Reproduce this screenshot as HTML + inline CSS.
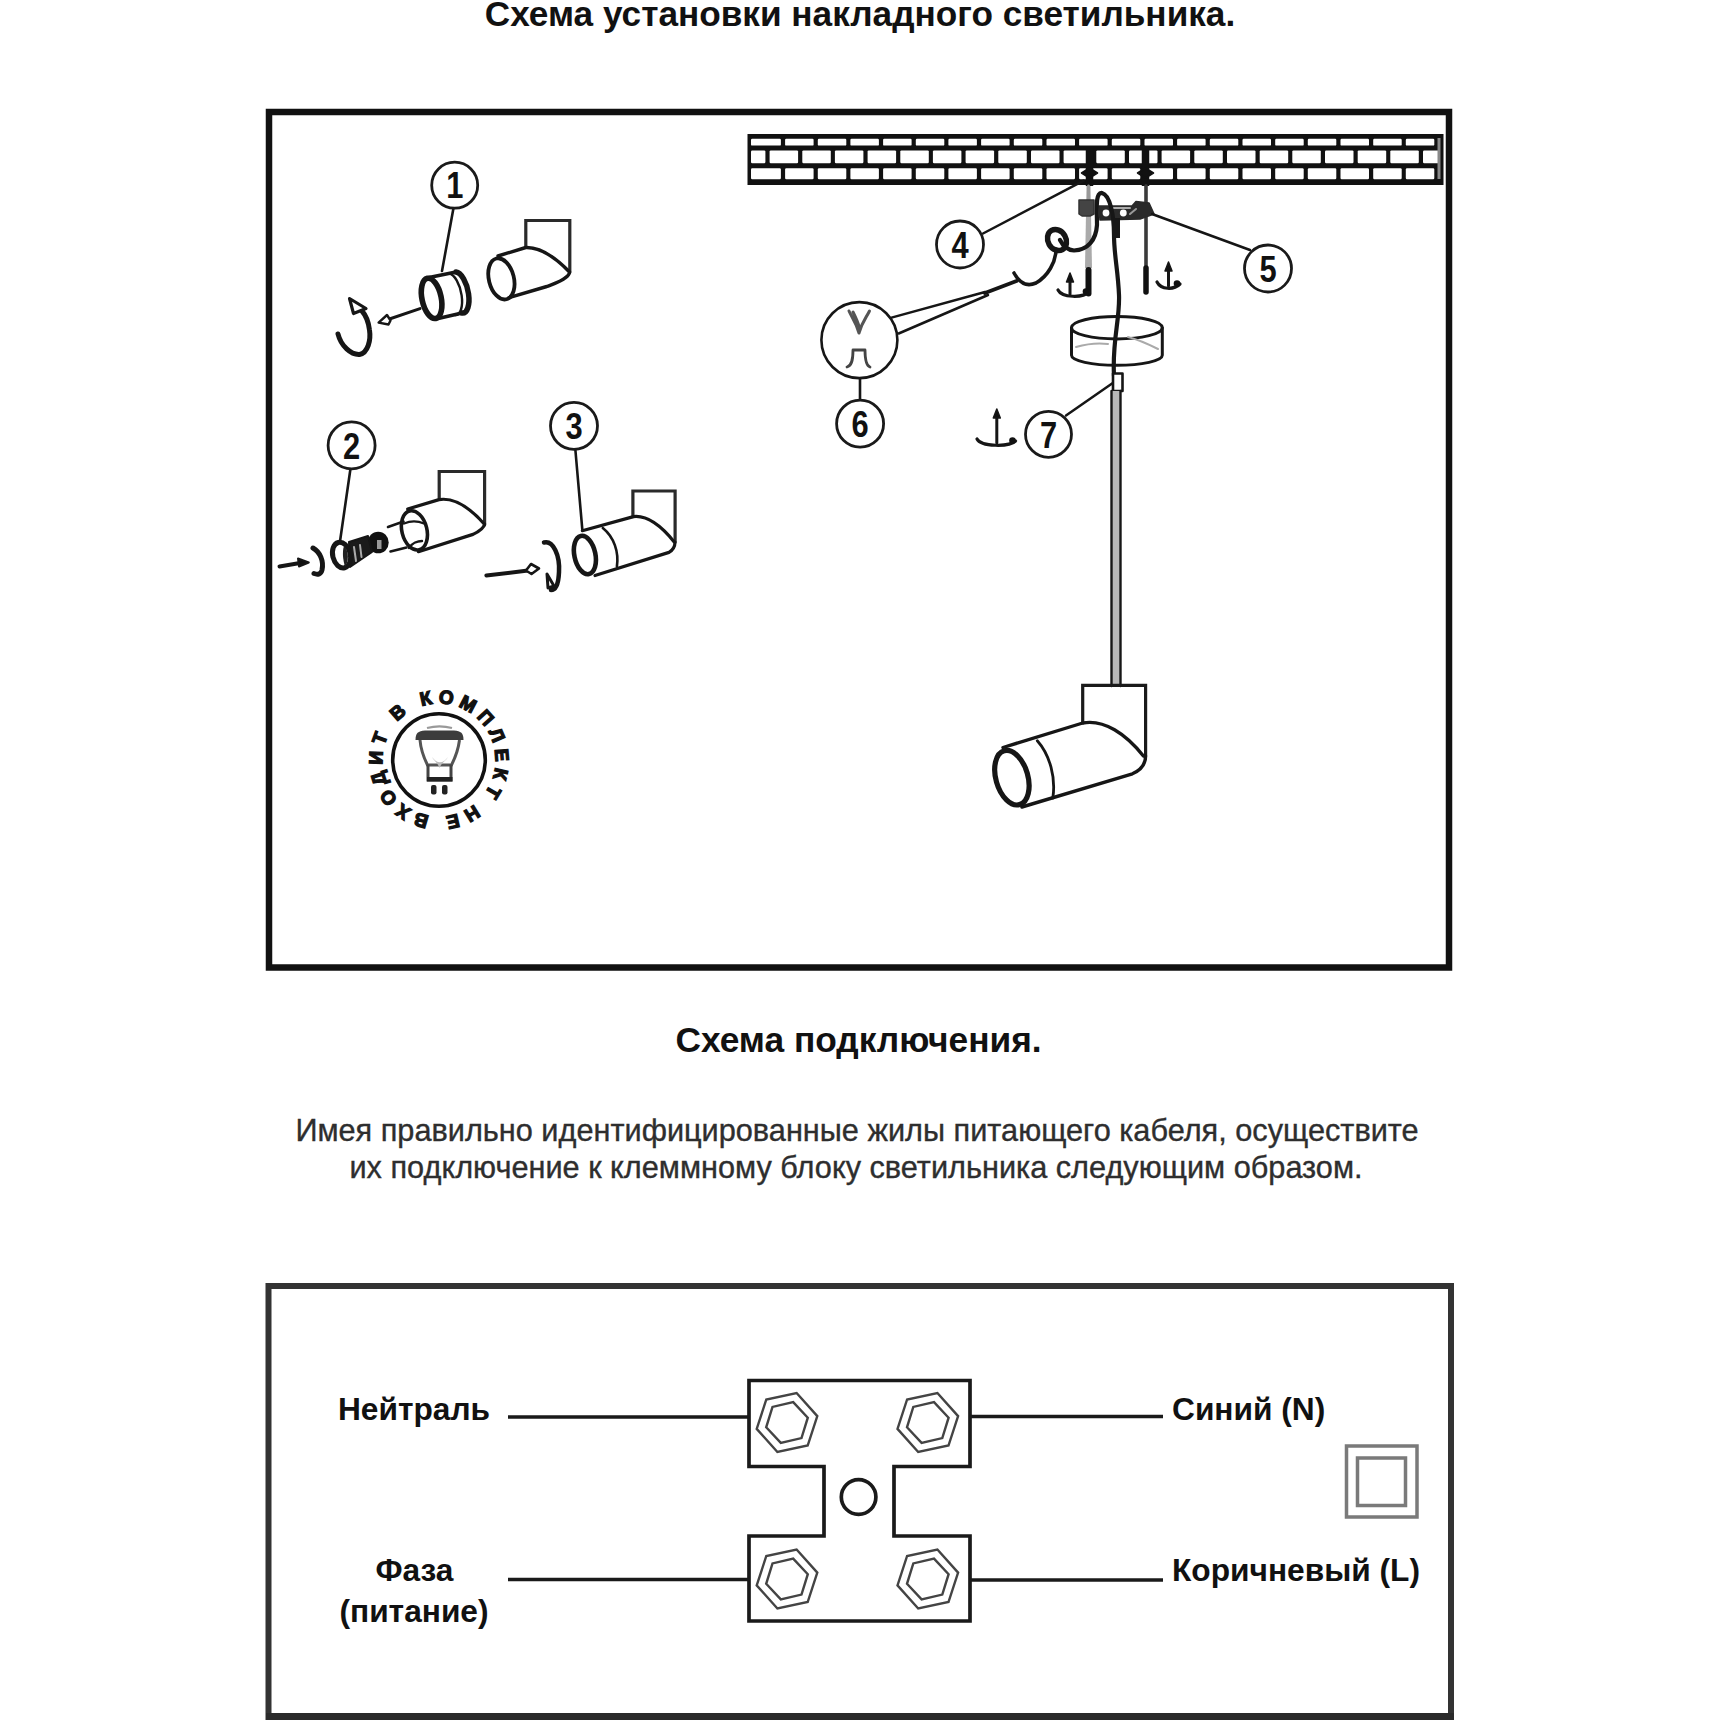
<!DOCTYPE html>
<html><head><meta charset="utf-8">
<style>
html,body{margin:0;padding:0;background:#fff;width:1720px;height:1720px;overflow:hidden}
svg{display:block;position:absolute;left:0;top:0}
text{font-family:"Liberation Sans",sans-serif}
</style></head><body>
<svg width="1720" height="1720" viewBox="0 0 1720 1720">
<rect x="0" y="0" width="1720" height="1720" fill="#fff"/>
<!-- titles -->
<text x="860" y="26" text-anchor="middle" font-size="35.2" font-weight="bold" fill="#111">Схема установки накладного светильника.</text>
<text x="858.5" y="1052" text-anchor="middle" font-size="35.3" font-weight="bold" fill="#111">Схема подключения.</text>
<text x="857" y="1141" text-anchor="middle" font-size="30.7" fill="#2e2e2e" stroke="#2e2e2e" stroke-width="0.35">Имея правильно идентифицированные жилы питающего кабеля, осуществите</text>
<text x="856" y="1178" text-anchor="middle" font-size="30.7" fill="#2e2e2e" stroke="#2e2e2e" stroke-width="0.35">их подключение к клеммному блоку светильника следующим образом.</text>

<!-- top frame -->
<rect x="269" y="112" width="1180" height="855.5" fill="none" stroke="#111" stroke-width="6.5"/>

<!-- bottom frame -->
<path d="M268.5 1723 V1286 H1451 V1723" fill="none" stroke="#333" stroke-width="6"/>
<line x1="266" y1="1716.5" x2="1454" y2="1716.5" stroke="#2a2a2a" stroke-width="7"/>

<!-- terminal block -->
<path d="M749 1380.5 H970 V1466.5 H894 V1536 H970 V1621 H749 V1536 H824 V1466.5 H749 Z" fill="none" stroke="#1a1a1a" stroke-width="3.7"/>
<circle cx="858.6" cy="1497" r="17.3" fill="none" stroke="#1a1a1a" stroke-width="3.7"/>
<g id="nuts" fill="none" stroke="#444" stroke-width="2.4"><polygon points="796.6,1393.0 817.3,1416.1 807.7,1445.5 777.4,1452.0 756.7,1428.9 766.3,1399.5"/><polygon points="793.2,1402.1 807.8,1417.7 801.5,1438.1 780.8,1442.9 766.2,1427.3 772.5,1406.9"/><polygon points="937.4,1393.0 958.1,1416.1 948.5,1445.5 918.2,1452.0 897.5,1428.9 907.1,1399.5"/><polygon points="934.0,1402.1 948.6,1417.7 942.3,1438.1 921.6,1442.9 907.0,1427.3 913.3,1406.9"/><polygon points="796.6,1549.5 817.3,1572.6 807.7,1602.0 777.4,1608.5 756.7,1585.4 766.3,1556.0"/><polygon points="793.2,1558.6 807.8,1574.2 801.5,1594.6 780.8,1599.4 766.2,1583.8 772.5,1563.4"/><polygon points="937.4,1549.5 958.1,1572.6 948.5,1602.0 918.2,1608.5 897.5,1585.4 907.1,1556.0"/><polygon points="934.0,1558.6 948.6,1574.2 942.3,1594.6 921.6,1599.4 907.0,1583.8 913.3,1563.4"/></g>
<!-- wires -->
<g stroke="#1a1a1a" stroke-width="3.7">
<line x1="508" y1="1417" x2="749" y2="1417"/>
<line x1="970" y1="1416.5" x2="1163" y2="1416.5"/>
<line x1="508" y1="1579.5" x2="749" y2="1579.5"/>
<line x1="970" y1="1580" x2="1163" y2="1580"/>
</g>
<text x="414" y="1420" text-anchor="middle" font-size="31.7" font-weight="bold" fill="#111">Нейтраль</text>
<text x="414.5" y="1581" text-anchor="middle" font-size="31.7" font-weight="bold" fill="#111">Фаза</text>
<text x="414" y="1621.5" text-anchor="middle" font-size="31.7" font-weight="bold" fill="#111">(питание)</text>
<text x="1172" y="1419.5" font-size="31.7" font-weight="bold" fill="#111">Синий (N)</text>
<text x="1172" y="1581" font-size="31.7" font-weight="bold" fill="#111">Коричневый (L)</text>
<!-- double square -->
<rect x="1346.5" y="1446" width="70.5" height="71" fill="none" stroke="#7a7a7a" stroke-width="3.5"/>
<rect x="1357.5" y="1458" width="48" height="47.5" fill="none" stroke="#7a7a7a" stroke-width="3.5"/>

<!-- TOP DIAGRAM -->
<g id="top"><rect x="747.5" y="134" width="696.0" height="51" fill="#111"/>
<g fill="#fff"><rect x="751.0" y="138.8" width="29.9" height="6.799999999999983" rx="1.2"/><rect x="785.1" y="138.8" width="28.5" height="6.799999999999983" rx="1.2"/><rect x="817.8" y="138.8" width="28.5" height="6.799999999999983" rx="1.2"/><rect x="850.4" y="138.8" width="28.5" height="6.799999999999983" rx="1.2"/><rect x="883.1" y="138.8" width="28.5" height="6.799999999999983" rx="1.2"/><rect x="915.8" y="138.8" width="28.5" height="6.799999999999983" rx="1.2"/><rect x="948.4" y="138.8" width="28.5" height="6.799999999999983" rx="1.2"/><rect x="981.1" y="138.8" width="28.5" height="6.799999999999983" rx="1.2"/><rect x="1013.8" y="138.8" width="28.5" height="6.799999999999983" rx="1.2"/><rect x="1046.5" y="138.8" width="28.5" height="6.799999999999983" rx="1.2"/><rect x="1079.1" y="138.8" width="28.5" height="6.799999999999983" rx="1.2"/><rect x="1111.8" y="138.8" width="28.5" height="6.799999999999983" rx="1.2"/><rect x="1144.5" y="138.8" width="28.5" height="6.799999999999983" rx="1.2"/><rect x="1177.1" y="138.8" width="28.5" height="6.799999999999983" rx="1.2"/><rect x="1209.8" y="138.8" width="28.5" height="6.799999999999983" rx="1.2"/><rect x="1242.5" y="138.8" width="28.5" height="6.799999999999983" rx="1.2"/><rect x="1275.2" y="138.8" width="28.5" height="6.799999999999983" rx="1.2"/><rect x="1307.8" y="138.8" width="28.5" height="6.799999999999983" rx="1.2"/><rect x="1340.5" y="138.8" width="28.5" height="6.799999999999983" rx="1.2"/><rect x="1373.2" y="138.8" width="28.5" height="6.799999999999983" rx="1.2"/><rect x="1405.8" y="138.8" width="28.5" height="6.799999999999983" rx="1.2"/><rect x="751.0" y="150.4" width="14.4" height="12.799999999999983" rx="1.2"/><rect x="769.6" y="150.4" width="28.5" height="12.799999999999983" rx="1.2"/><rect x="802.3" y="150.4" width="28.5" height="12.799999999999983" rx="1.2"/><rect x="834.9" y="150.4" width="28.5" height="12.799999999999983" rx="1.2"/><rect x="867.6" y="150.4" width="28.5" height="12.799999999999983" rx="1.2"/><rect x="900.3" y="150.4" width="28.5" height="12.799999999999983" rx="1.2"/><rect x="932.9" y="150.4" width="28.5" height="12.799999999999983" rx="1.2"/><rect x="965.6" y="150.4" width="28.5" height="12.799999999999983" rx="1.2"/><rect x="998.3" y="150.4" width="28.5" height="12.799999999999983" rx="1.2"/><rect x="1031.0" y="150.4" width="28.5" height="12.799999999999983" rx="1.2"/><rect x="1063.6" y="150.4" width="28.5" height="12.799999999999983" rx="1.2"/><rect x="1096.3" y="150.4" width="28.5" height="12.799999999999983" rx="1.2"/><rect x="1129.0" y="150.4" width="28.5" height="12.799999999999983" rx="1.2"/><rect x="1161.6" y="150.4" width="28.5" height="12.799999999999983" rx="1.2"/><rect x="1194.3" y="150.4" width="28.5" height="12.799999999999983" rx="1.2"/><rect x="1227.0" y="150.4" width="28.5" height="12.799999999999983" rx="1.2"/><rect x="1259.7" y="150.4" width="28.5" height="12.799999999999983" rx="1.2"/><rect x="1292.3" y="150.4" width="28.5" height="12.799999999999983" rx="1.2"/><rect x="1325.0" y="150.4" width="28.5" height="12.799999999999983" rx="1.2"/><rect x="1357.7" y="150.4" width="28.5" height="12.799999999999983" rx="1.2"/><rect x="1390.3" y="150.4" width="28.5" height="12.799999999999983" rx="1.2"/><rect x="1423.0" y="150.4" width="16.0" height="12.799999999999983" rx="1.2"/><rect x="751.0" y="168.2" width="29.9" height="11.0" rx="1.2"/><rect x="785.1" y="168.2" width="28.5" height="11.0" rx="1.2"/><rect x="817.8" y="168.2" width="28.5" height="11.0" rx="1.2"/><rect x="850.4" y="168.2" width="28.5" height="11.0" rx="1.2"/><rect x="883.1" y="168.2" width="28.5" height="11.0" rx="1.2"/><rect x="915.8" y="168.2" width="28.5" height="11.0" rx="1.2"/><rect x="948.4" y="168.2" width="28.5" height="11.0" rx="1.2"/><rect x="981.1" y="168.2" width="28.5" height="11.0" rx="1.2"/><rect x="1013.8" y="168.2" width="28.5" height="11.0" rx="1.2"/><rect x="1046.5" y="168.2" width="28.5" height="11.0" rx="1.2"/><rect x="1079.1" y="168.2" width="28.5" height="11.0" rx="1.2"/><rect x="1111.8" y="168.2" width="28.5" height="11.0" rx="1.2"/><rect x="1144.5" y="168.2" width="28.5" height="11.0" rx="1.2"/><rect x="1177.1" y="168.2" width="28.5" height="11.0" rx="1.2"/><rect x="1209.8" y="168.2" width="28.5" height="11.0" rx="1.2"/><rect x="1242.5" y="168.2" width="28.5" height="11.0" rx="1.2"/><rect x="1275.2" y="168.2" width="28.5" height="11.0" rx="1.2"/><rect x="1307.8" y="168.2" width="28.5" height="11.0" rx="1.2"/><rect x="1340.5" y="168.2" width="28.5" height="11.0" rx="1.2"/><rect x="1373.2" y="168.2" width="28.5" height="11.0" rx="1.2"/><rect x="1405.8" y="168.2" width="28.5" height="11.0" rx="1.2"/></g>
<rect x="1437.5" y="138" width="3" height="41" fill="#888"/>
<g stroke="#161616" fill="none" stroke-linecap="round" stroke-linejoin="round">
<line x1="453.5" y1="208" x2="442" y2="271" stroke-width="2.6"/>
<path d="M429 277.5 L456 272 M436 319 L462 313" stroke-width="3.6"/>
<path d="M456 272 A9 20.5 -12 0 1 462 313" stroke-width="5.5"/>
<path d="M449 273.5 A9 20.5 -12 0 1 455 315" stroke-width="2.4"/>
<ellipse cx="431.6" cy="298.4" rx="9.6" ry="20.5" transform="rotate(-12 431.6 298.4)" stroke-width="5.6"/>
<line x1="420" y1="308.6" x2="385" y2="320.5" stroke-width="3"/>
<path d="M378.6 322.6 L387 315 L390.5 320.5 L388.5 324.5 Z" fill="#fff" stroke-width="2.4"/>
<path d="M338 334 C341 346 351 355 359.5 354.5 C368 353 371 340 369.5 330 C368.5 322 366.5 316 362 311" stroke-width="5"/>
<path d="M349.5 298.5 L366 308.5 L353.5 313.5 Z" fill="#fff" stroke-width="3.2"/>
<path d="M525.8 247.5 V220.5 H569.8 V272.5" stroke="#2a2a2a" stroke-width="3.2" stroke-linejoin="miter"/>
<path d="M498 256 L525.8 247.5 C541 247 556 258 569.5 272 M509 297.7 L546.8 286.5 C556 283 562 281 565 278 C568 276 569.5 274 569.5 272" stroke-width="3.4"/>
<ellipse cx="501.4" cy="278.9" rx="12.5" ry="21" transform="rotate(-14 501.4 278.9)" stroke-width="3.8"/>
</g>
<circle cx="454.7" cy="185.2" r="23" fill="#fff" stroke="#1a1a1a" stroke-width="2.8"/>
<text transform="translate(454.7 198.39999999999998) scale(0.85 1)" x="0" y="0" text-anchor="middle" font-size="36.3" font-weight="bold" fill="#111">1</text>
<g stroke="#161616" fill="none" stroke-linecap="round" stroke-linejoin="round">
<line x1="350.5" y1="468.5" x2="340.2" y2="540" stroke-width="2.6"/>
<path d="M439.2 498.3 V471.5 H484.6 V525" stroke="#2a2a2a" stroke-width="3.2" stroke-linejoin="miter"/>
<path d="M407.7 509 L439 499.6 C455 497 470 508 484 523.7 M418.4 551.7 L473 534.4 C480 531 484 528 484.6 524" stroke-width="3.2"/>
<ellipse cx="414.4" cy="530.4" rx="12.5" ry="20" transform="rotate(-14 414.4 530.4)" stroke-width="3.6"/>
<path d="M404 523.5 C410 521 418 521 424 523.5 M409 548 C412 543 418 541 422 541" stroke-width="2.4"/>
<path d="M388 527 L403.5 521.5 M390.5 551.5 L406.5 547.5" stroke-width="2.6"/>
<ellipse cx="378.2" cy="542.5" rx="10.5" ry="10.8" fill="#111" stroke="none"/>
<rect x="377" y="540" width="4.5" height="9" fill="#999" stroke="none"/>
<path d="M349 542 L368 536 L372 552 L350 567 Z" fill="#1a1a1a" stroke-width="2"/>
<path d="M354 547 L356 561 M360 545 L361.5 557" stroke="#aaa" stroke-width="2"/>
<ellipse cx="341.5" cy="555.1" rx="8.8" ry="13" transform="rotate(-14 341.5 555.1)" stroke-width="5" fill="#fff"/>
<path d="M344 546 C349 550 349 562 345 567 C343 560 342 552 344 546 Z" fill="#222" stroke="none"/>
<path d="M313 548 C320 552 324 561 322 570 C321 574 318 575 314 573.5" stroke-width="5"/>
<line x1="279.5" y1="566.5" x2="300" y2="563" stroke-width="4"/>
<path d="M308.8 562.5 L298 558.5 L299 566.5 Z" fill="#111" stroke-width="2"/>
</g>
<circle cx="351.6" cy="445.4" r="23.5" fill="#fff" stroke="#1a1a1a" stroke-width="2.8"/>
<text transform="translate(351.6 458.59999999999997) scale(0.85 1)" x="0" y="0" text-anchor="middle" font-size="36.3" font-weight="bold" fill="#111">2</text>
<g stroke="#161616" fill="none" stroke-linecap="round" stroke-linejoin="round">
<line x1="575.3" y1="449" x2="582.3" y2="529.4" stroke-width="2.6"/>
<path d="M632.9 516.6 V491 H675.1 V542.2" stroke="#2a2a2a" stroke-width="3.2" stroke-linejoin="miter"/>
<path d="M582.3 530.7 L633.5 516.6 C648 515 663 528 674.4 542.2 M595 575.5 L669 552.4 C673 550 675 547 675 542" stroke-width="3.2"/>
<path d="M602.8 528 C614 537 619 552 616.9 566.5" stroke-width="2.6"/>
<ellipse cx="584.9" cy="555" rx="10.5" ry="19.5" transform="rotate(-12 584.9 555)" stroke-width="4.6"/>
<path d="M544 542.5 C553 540 560 555 559 572 C558.5 584 556 590 551 590" stroke-width="4.5"/>
<path d="M547 574 L548 588 L554 586 Z" fill="#fff" stroke-width="3"/>
<line x1="486.4" y1="575.5" x2="528" y2="570.5" stroke-width="4"/>
<path d="M539 568.5 L531 564 L526 570.5 L531.5 574 Z" fill="#fff" stroke-width="2.6"/>
</g>
<circle cx="574" cy="425.8" r="23.5" fill="#fff" stroke="#1a1a1a" stroke-width="2.8"/>
<text transform="translate(574 439.0) scale(0.85 1)" x="0" y="0" text-anchor="middle" font-size="36.3" font-weight="bold" fill="#111">3</text>
<circle cx="439" cy="760" r="46.3" fill="none" stroke="#111" stroke-width="3.6"/>
<path id="stp" d="M474.17 804.22 A56.5 56.5 0 1 1 403.83 715.78 A56.5 56.5 0 1 1 474.17 804.22" fill="none" stroke="none"/>
<text font-size="19" font-weight="bold" fill="#111" stroke="#111" stroke-width="1.3"><textPath href="#stp" textLength="339.7" lengthAdjust="spacing">НЕ ВХОДИТ В КОМПЛЕКТ</textPath></text>
<path d="M420 740 C421 752 425 760 427.5 765 H451.5 C454 760 458 752 459.5 740" fill="#fff" stroke="#555" stroke-width="3"/>
<path d="M432 757 C437 764 443 764 448 757 C446 761 441 763 439.5 768 C438 763 434 761 432 757 Z" fill="#bbb"/>
<path d="M415.5 740 C415.5 733 418 731 425 730.5 H454 C461 731 463.5 733 463.5 740 Z" fill="#3c3c3c"/>
<path d="M427 728 C435 725.8 444 725.8 452 728" fill="none" stroke="#999" stroke-width="2.2"/>
<path d="M428 764.5 V780 H451 V764.5" fill="none" stroke="#444" stroke-width="3"/>
<rect x="427" y="777" width="25.5" height="4.5" fill="#222"/>
<rect x="431" y="785" width="5.5" height="9.5" rx="2" fill="#222"/><rect x="442" y="785" width="5.5" height="9.5" rx="2" fill="#222"/>
<g stroke="#161616" fill="none" stroke-linecap="round" stroke-linejoin="round">
<path d="M1089.5 149 V186" stroke-width="7.5" stroke="#111" stroke-linecap="butt"/>
<path d="M1081.5 173 L1089.5 168 L1097.5 173 L1089.5 178 Z" fill="#111" stroke="#111" stroke-width="1.5"/>
<path d="M1145.5 149 V186" stroke-width="7.5" stroke="#111" stroke-linecap="butt"/>
<path d="M1137.5 173 L1145.5 168 L1153.5 173 L1145.5 178 Z" fill="#111" stroke="#111" stroke-width="1.5"/>
<path d="M1086.5 186 H1090.5 L1092 268 H1085 Z" fill="#aaa" stroke="none"/>
<line x1="1088.5" y1="186" x2="1088.5" y2="199" stroke="#999" stroke-width="3"/>
<line x1="1088.5" y1="270" x2="1088.5" y2="293.5" stroke="#111" stroke-width="6"/>
<line x1="1146" y1="186" x2="1146" y2="268" stroke="#3a3a3a" stroke-width="3.6"/>
<line x1="1146" y1="268" x2="1146" y2="292" stroke="#111" stroke-width="5.5"/>
<path d="M1079 200 H1094 V214 L1090 216 H1082 L1079 214 Z" fill="#444" stroke="#333" stroke-width="1.5"/>
<path d="M1099 206 H1132 L1136 201.5 L1149 203 L1154 214 L1140 219 L1100 220 Z" fill="#2a2a2a" stroke="#2a2a2a" stroke-width="1.6"/>
<path d="M1112 208 H1130" stroke="#aaa" stroke-width="2"/>
<circle cx="1106" cy="213" r="3.4" fill="#fff" stroke="none"/><circle cx="1123.3" cy="213" r="3.4" fill="#fff" stroke="none"/>
<path d="M1130 214 L1136 209" stroke="#999" stroke-width="2"/>
<path d="M1114 376 C1112 340 1120 320 1119 295 C1118 270 1114 255 1114 235 C1114 215 1110 195 1102 193 C1095 192 1097 210 1097 225 C1096 240 1088 250 1074 250.5 C1066 250 1062 244 1060 240" stroke-width="4.2"/>
<path d="M1116 218 L1116 238" stroke-width="8" stroke-linecap="butt"/>
<ellipse cx="1057" cy="240" rx="9" ry="11" transform="rotate(-30 1057 240)" stroke-width="5.5"/>
<path d="M1056 249 C1056 262 1048 276 1036 283 C1027 287 1020 284 1014 273" stroke-width="3.6"/>
<path d="M1016.5 281 L985 293" stroke-width="4"/>
<path d="M985 292 L891.5 317.6 M988 295 L898.7 333.5" stroke-width="2.5"/>
<line x1="983" y1="233.5" x2="1083.7" y2="180.7" stroke-width="2.5"/>
<line x1="1250" y1="250" x2="1152" y2="214" stroke-width="2.5"/>
<line x1="860" y1="378.5" x2="860" y2="401" stroke-width="2.6"/>
<line x1="1066" y1="415.5" x2="1112.8" y2="383" stroke-width="2.5"/>
<line x1="1070" y1="279" x2="1070" y2="294" stroke-width="3"/>
<path d="M1066.5 282 L1070 273 L1073.5 282 Z" fill="#111" stroke-width="1.5"/>
<path d="M1058 290 C1062 298 1083 298 1089 292" stroke-width="3.2"/>
<circle cx="1086" cy="291.5" r="3.3" fill="#111" stroke="none"/>
<line x1="1168.5" y1="268" x2="1168.5" y2="286" stroke-width="3"/>
<path d="M1165.0 271 L1168.5 262 L1172.0 271 Z" fill="#111" stroke-width="1.5"/>
<path d="M1157 282 C1161 290 1174 290 1180 284" stroke-width="3.2"/>
<circle cx="1177" cy="283.5" r="3.3" fill="#111" stroke="none"/>
<line x1="996.8" y1="415" x2="996.8" y2="443" stroke-width="3"/>
<path d="M993.3 418 L996.8 409 L1000.3 418 Z" fill="#111" stroke-width="1.5"/>
<path d="M977 439 C981 447 1009.5 447 1015.5 441" stroke-width="3.2"/>
<circle cx="1012.5" cy="440.5" r="3.3" fill="#111" stroke="none"/>
<circle cx="859.4" cy="340.1" r="38" fill="#fff" stroke-width="2.6"/>
<path d="M849 311 C852 318 856 322 859 333 C862 322 866 318 869.5 311 M853 312 C856 318 858 322 859.5 328" stroke="#555" stroke-width="3"/>
<path d="M847 367 C851 366 853 362 853 350 H865 C865 362 867 366 870 367" stroke="#444" stroke-width="2.8"/>
<path d="M1071.5 327.7 V355.3 A45.4 10 0 0 0 1162.3 355.3 V327.7" stroke-width="3"/>
<ellipse cx="1116.9" cy="327.7" rx="45.4" ry="11.2" stroke-width="3"/>
<path d="M1076 347 C1090 343 1100 343 1108 344 M1128 337 C1140 340 1150 345 1158 349" stroke="#aaa" stroke-width="2"/>
<rect x="1113" y="373.5" width="9.5" height="17.5" fill="#fff" stroke-width="2.6"/>
<rect x="1112" y="391" width="8.5" height="295" fill="#b8b8b8" stroke="none"/>
<line x1="1111.5" y1="391" x2="1111.5" y2="686" stroke-width="2.4"/>
<line x1="1120.5" y1="391" x2="1120.5" y2="686" stroke-width="2.4"/>
<path d="M1082.7 723 V685.4 H1145.6 V756" stroke="#1a1a1a" stroke-width="3.2" stroke-linejoin="miter"/>
<path d="M1003 747.5 L1082.7 723 C1104 719 1126 734 1143.4 756 M1021.9 807 L1132.4 773.8 C1141 770 1145.6 764 1145.6 756" stroke-width="3.4"/>
<path d="M1037.3 740.7 C1050 755 1056 778 1052.8 798.1" stroke-width="2.8"/>
<ellipse cx="1011.9" cy="777.7" rx="16" ry="28" transform="rotate(-16 1011.9 777.7)" stroke-width="5.2"/>
</g>
<circle cx="960" cy="244.5" r="23.5" fill="#fff" stroke="#1a1a1a" stroke-width="2.8"/>
<text transform="translate(960 257.7) scale(0.85 1)" x="0" y="0" text-anchor="middle" font-size="36.3" font-weight="bold" fill="#111">4</text>
<circle cx="1268" cy="268.5" r="23.5" fill="#fff" stroke="#1a1a1a" stroke-width="2.8"/>
<text transform="translate(1268 281.7) scale(0.85 1)" x="0" y="0" text-anchor="middle" font-size="36.3" font-weight="bold" fill="#111">5</text>
<circle cx="860.1" cy="423.7" r="23.5" fill="#fff" stroke="#1a1a1a" stroke-width="2.8"/>
<text transform="translate(860.1 436.9) scale(0.85 1)" x="0" y="0" text-anchor="middle" font-size="36.3" font-weight="bold" fill="#111">6</text>
<circle cx="1048.5" cy="434.3" r="23" fill="#fff" stroke="#1a1a1a" stroke-width="2.8"/>
<text transform="translate(1048.5 447.5) scale(0.85 1)" x="0" y="0" text-anchor="middle" font-size="36.3" font-weight="bold" fill="#111">7</text></g><!--endtop-->
</svg>
</body></html>
